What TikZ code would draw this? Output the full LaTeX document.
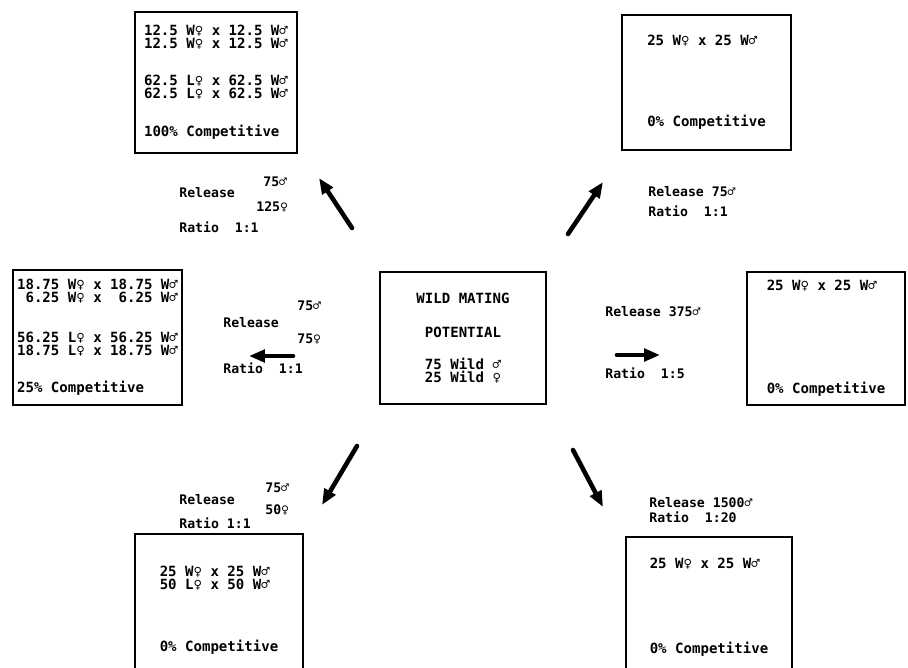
\documentclass[tikz,border=0pt]{standalone}
\usepackage{fontspec}
\usetikzlibrary{arrows.meta}
\newfontfamily\typefont{DejaVu Sans Mono}

\begin{document}
\begin{tikzpicture}[x=0.02cm,y=-0.02cm,
  box/.style={draw,line width=1.5pt,align=left,inner sep=0pt,font=\typefont\bfseries\fontsize{8pt}{7.4pt}\selectfont},
  lbl/.style={anchor=west,inner sep=0pt,font=\typefont\bfseries\fontsize{7.5pt}{7.4pt}\selectfont},
  arr/.style={-{Triangle[length=9pt,width=7pt]},line width=2.6pt,line cap=round}]
  \useasboundingbox (0,0) rectangle (908,667);
  \clip (0,0) rectangle (908,667);
  % centre box
  \node[box,align=center,minimum width=3.32cm,minimum height=2.64cm] (wild) at (463,338) {WILD MATING\\[11.9pt]POTENTIAL\\[10.8pt]75 Wild ♂\\25 Wild ♀};
  % outcome boxes
  \node[box,minimum width=3.24cm,minimum height=2.82cm] (tl) at (216,82.5) {12.5 W♀ x 12.5 W♂\\12.5 W♀ x 12.5 W♂\\[13.6pt]62.5 L♀ x 62.5 W♂\\62.5 L♀ x 62.5 W♂\\[14.2pt]100\% Competitive};
  \node[box,minimum width=3.38cm,minimum height=2.70cm] (tr) at (706.5,82.5) {25 W♀ x 25 W♂\\[38.6pt]0\% Competitive};
  \node[box,minimum width=3.38cm,minimum height=2.70cm] (lf) at (97.5,337.5) {18.75 W♀ x 18.75 W♂\\\phantom{1}6.25 W♀ x \phantom{1}6.25 W♂\\[15.3pt]56.25 L♀ x 56.25 W♂\\18.75 L♀ x 18.75 W♂\\[13.6pt]25\% Competitive};
  \node[box,minimum width=3.16cm,minimum height=2.66cm] (rt) at (826,338.5) {25 W♀ x 25 W♂\\[51pt]0\% Competitive};
  \node[box,minimum width=3.36cm,minimum height=3.04cm] (bl) at (219,610) {25 W♀ x 25 W♂\\50 L♀ x 50 W♂\\[27.8pt]0\% Competitive};
  \node[box,minimum width=3.32cm,minimum height=2.82cm] (br) at (709,607.5) {25 W♀ x 25 W♂\\[40.8pt]0\% Competitive};
  % release labels
  \node[lbl] (tlrel) at (179,193) {Release};
  \node[lbl] (tlm) at (263,182) {75♂};
  \node[lbl] (tlf) at (256,207) {125♀};
  \node[lbl] (tlrat) at (179,227) {Ratio~ 1:1};
  \node[lbl] (trrel) at (648,192) {Release 75♂};
  \node[lbl] (trrat) at (648,211) {Ratio~ 1:1};
  \node[lbl] (lfm) at (297,306) {75♂};
  \node[lbl] (lfrel) at (223,323) {Release};
  \node[lbl] (lff) at (297,339) {75♀};
  \node[lbl] (lfrat) at (223,368) {Ratio~ 1:1};
  \node[lbl] (rtrel) at (605,312) {Release 375♂};
  \node[lbl] (rtrat) at (605,373) {Ratio~ 1:5};
  \node[lbl] (blrel) at (179,500) {Release};
  \node[lbl] (blm) at (265,488) {75♂};
  \node[lbl] (blf) at (265,510) {50♀};
  \node[lbl] (blrat) at (179,523) {Ratio 1:1};
  \node[lbl] (brrel) at (649,503) {Release 1500♂};
  \node[lbl] (brrat) at (649,517) {Ratio~ 1:20};
  % arrow ends
  \coordinate (tlA) at (352,228); \coordinate (tlB) at (319,178);
  \coordinate (trA) at (568,234); \coordinate (trB) at (603,182);
  \coordinate (lfA) at (293,356); \coordinate (lfB) at (249,356);
  \coordinate (rtA) at (617,355); \coordinate (rtB) at (660,355);
  \coordinate (blA) at (357,446); \coordinate (blB) at (322,505);
  \coordinate (brA) at (573,450); \coordinate (brB) at (603,507);
  \draw[arr] (tlA) -- (tlB);
  \draw[arr] (trA) -- (trB);
  \draw[arr] (lfA) -- (lfB);
  \draw[arr] (rtA) -- (rtB);
  \draw[arr] (blA) -- (blB);
  \draw[arr] (brA) -- (brB);
\end{tikzpicture}
\end{document}
